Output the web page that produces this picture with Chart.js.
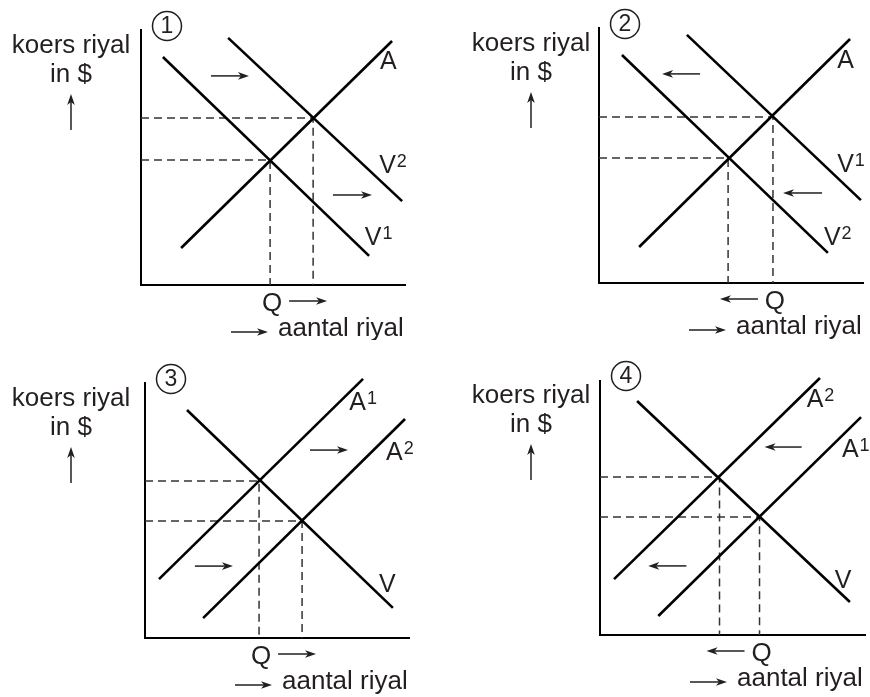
<!DOCTYPE html>
<html>
<head>
<meta charset="utf-8">
<script src="https://cdn.jsdelivr.net/npm/chart.js@4.4.1/dist/chart.umd.min.js"></script>
<style>
  html, body { margin: 0; padding: 0; background: #fff; }
  #wrap { position: relative; width: 870px; height: 697px; overflow: hidden; }
  canvas { position: absolute; }
</style>
</head>
<body>
<div id="wrap">
  <canvas id="c1" width="435" height="340" style="left:0;top:0"></canvas>
  <canvas id="c2" width="435" height="340" style="left:435px;top:0"></canvas>
  <canvas id="c3" width="435" height="357" style="left:0;top:340px"></canvas>
  <canvas id="c4" width="435" height="357" style="left:435px;top:340px"></canvas>
</div>
<script>
const FONT = '"Liberation Sans", Arial, Helvetica, sans-serif';
const INK = '#231f20';

// grafiek 1 - vraag naar riyal stijgt
const names1 = ['A', 'V1', 'V2'];
const start1 = [[1.52, 1.45], [0.83, 8.94], [3.30, 9.69]];
const end1 = [[9.51, 9.57], [8.64, 1.14], [9.89, 3.29]];
const eq1 = [[4.89, 4.90], [6.52, 6.55]];

// grafiek 2 - vraag daalt
const names2 = ['A', 'V1', 'V2'];
const start2 = [[1.52, 1.41], [3.33, 9.73], [0.87, 8.94]];
const end2 = [[9.51, 9.57], [9.92, 3.25], [8.67, 1.18]];
const eq2 = [[4.89, 4.90], [6.59, 6.51]];

// grafiek 3 - aanbod stijgt
const names3 = ['A1', 'A2', 'V'];
const start3 = [[0.53, 2.31], [2.20, 0.78], [1.59, 8.94]];
const end3 = [[8.26, 10.16], [9.85, 8.59], [9.39, 1.18]];
const eq3 = [[4.32, 6.16], [5.95, 4.59]];

// grafiek 4 - aanbod daalt
const names4 = ['A2', 'A1', 'V'];
const start4 = [[0.53, 2.20], [2.20, 0.75], [1.40, 9.21]];
const end4 = [[8.30, 10.12], [9.85, 8.58], [9.43, 1.30]];
const eq4 = [[4.51, 6.22], [6.02, 4.65]];

// plaats van de letters bij de lijnen en de verschuivingspijlen (in asseenheden)
const labelAt1 = [[9.05, 8.47], [8.48, 1.57], [9.02, 4.39]];
const labelAt2 = [[9.02, 8.43], [9.02, 4.35], [8.52, 1.49]];
const labelAt3 = [[7.74, 8.94], [9.13, 6.98], [8.86, 1.80]];
const labelAt4 = [[7.80, 8.98], [9.13, 7.00], [8.86, 1.85]];
const shifts1 = [[[2.65, 8.2], [4.09, 8.2]], [[7.27, 3.53], [8.75, 3.53]]];
const shifts2 = [[[3.83, 8.2], [2.39, 8.2]], [[8.45, 3.53], [6.97, 3.53]]];
const shifts3 = [[[6.25, 7.37], [7.69, 7.37]], [[1.89, 2.82], [3.33, 2.82]]];
const shifts4 = [[[7.61, 7.40], [6.21, 7.40]], [[3.26, 2.72], [1.82, 2.72]]];

const panels = [
  { id: 'c1', num: '1', names: names1, start: start1, end: end1, eq: eq1, labelAt: labelAt1, shifts: shifts1, q: 0, qDir: 1,
    pad: { left: 141, top: 30, right: 30, bottom: 55 }, yLabelDx: -70 },
  { id: 'c2', num: '2', names: names2, start: start2, end: end2, eq: eq2, labelAt: labelAt2, shifts: shifts2, q: 1, qDir: -1,
    pad: { left: 164, top: 28, right: 7, bottom: 57 }, yLabelDx: -68 },
  { id: 'c3', num: '3', names: names3, start: start3, end: end3, eq: eq3, labelAt: labelAt3, shifts: shifts3, q: 0, qDir: 1,
    pad: { left: 145, top: 43, right: 26, bottom: 59 }, yLabelDx: -74 },
  { id: 'c4', num: '4', names: names4, start: start4, end: end4, eq: eq4, labelAt: labelAt4, shifts: shifts4, q: 1, qDir: -1,
    pad: { left: 165, top: 41, right: 5, bottom: 62 }, yLabelDx: -69 }
];

function drawArrow(ctx, x1, y1, x2, y2) {
  const ang = Math.atan2(y2 - y1, x2 - x1);
  const len = Math.hypot(x2 - x1, y2 - y1);
  ctx.save();
  ctx.translate(x2, y2);
  ctx.rotate(ang);
  ctx.lineWidth = 1.5;
  ctx.beginPath();
  ctx.moveTo(-len, 0);
  ctx.lineTo(-8, 0);
  ctx.stroke();
  ctx.beginPath();
  ctx.moveTo(0, 0);
  ctx.lineTo(-11, -3.8);
  ctx.lineTo(-8, 0);
  ctx.lineTo(-11, 3.8);
  ctx.closePath();
  ctx.fill();
  ctx.restore();
}

function makeSketch(p) {
  return {
    id: 'sketch' + p.num,
    afterDatasetsDraw(chart) {
      const { ctx, scales: { x, y } } = chart;
      const ox = x.getPixelForValue(0);
      const oy = y.getPixelForValue(0);
      ctx.save();
      ctx.fillStyle = INK;
      ctx.strokeStyle = INK;

      // nummer in cirkel
      ctx.lineWidth = 1.5;
      ctx.beginPath();
      ctx.arc(ox + 26, oy - 259, 14.5, 0, Math.PI * 2);
      ctx.stroke();
      ctx.font = '23px ' + FONT;
      ctx.textAlign = 'center';
      ctx.textBaseline = 'middle';
      ctx.fillText(p.num, ox + 26, oy - 258);

      // y-as titel
      ctx.textBaseline = 'alphabetic';
      ctx.font = '26px ' + FONT;
      ctx.fillText('koers riyal', ox + p.yLabelDx, oy - 232);
      ctx.fillText('in $', ox + p.yLabelDx, oy - 203);
      drawArrow(ctx, ox + p.yLabelDx, oy - 155, ox + p.yLabelDx, oy - 191);

      // x-as titel
      ctx.textAlign = 'left';
      ctx.fillText('aantal riyal', ox + 137, oy + 51);
      drawArrow(ctx, ox + 90, oy + 47, ox + 127, oy + 47);

      // Q met pijl
      const qx = x.getPixelForValue(p.eq[p.q][0]) + 2;
      ctx.textAlign = 'center';
      ctx.fillText('Q', qx, oy + 26);
      drawArrow(ctx, qx + 17 * p.qDir, oy + 16, qx + 55 * p.qDir, oy + 16);

      // verschuivingspijlen
      p.shifts.forEach(([a, b]) => {
        drawArrow(ctx, x.getPixelForValue(a[0]), y.getPixelForValue(a[1]),
          x.getPixelForValue(b[0]), y.getPixelForValue(b[1]));
      });

      // lijnnamen met superscript
      ctx.textAlign = 'left';
      p.names.forEach((name, i) => {
        const lx = x.getPixelForValue(p.labelAt[i][0]);
        const ly = y.getPixelForValue(p.labelAt[i][1]);
        ctx.font = '25px ' + FONT;
        ctx.fillText(name[0], lx, ly);
        if (name.length > 1) {
          const w = ctx.measureText(name[0]).width;
          ctx.font = '18px ' + FONT;
          ctx.fillText(name.slice(1), lx + w + 1, ly - 6);
        }
      });
      ctx.restore();
    }
  };
}

panels.forEach((p) => {
  const solid = p.names.map((name, i) => ({
    label: name,
    data: [{ x: p.start[i][0], y: p.start[i][1] }, { x: p.end[i][0], y: p.end[i][1] }],
    borderColor: '#000',
    borderWidth: 2.6,
    pointRadius: 0,
    showLine: true,
    clip: false,
    order: 0
  }));
  const dashed = p.eq.map(([ex, ey]) => ({
    label: 'evenwicht',
    data: [{ x: 0, y: ey }, { x: ex, y: ey }, { x: ex, y: 0 }],
    borderColor: '#333',
    borderWidth: 1.5,
    borderDash: [8, 5],
    pointRadius: 0,
    showLine: true,
    clip: false,
    order: 1
  }));
  const axis = {
    type: 'linear', min: 0, max: 10,
    grid: { display: false, drawTicks: false },
    ticks: { display: false },
    border: { display: true, color: '#000', width: 2 }
  };
  new Chart(document.getElementById(p.id), {
    type: 'scatter',
    data: { datasets: [...solid, ...dashed] },
    options: {
      responsive: false,
      animation: false,
      events: [],
      layout: { padding: p.pad },
      plugins: { legend: { display: false }, tooltip: { enabled: false } },
      scales: { x: { ...axis }, y: { ...axis } }
    },
    plugins: [makeSketch(p)]
  });
});
</script>
</body>
</html>
